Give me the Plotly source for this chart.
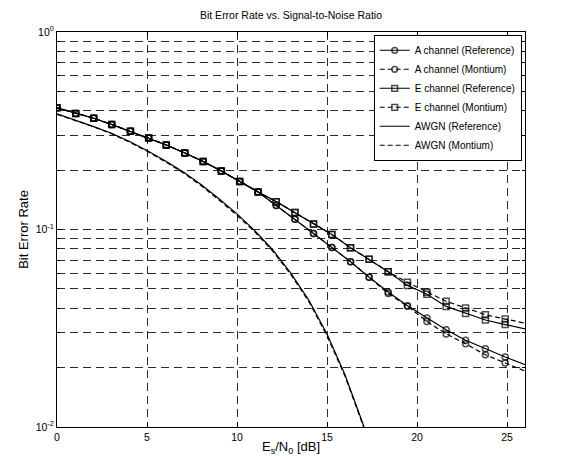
import plotly.graph_objects as go

# ---- data ----
es_n0_db = [0, 1.04, 2.04, 3.04, 4.08, 5.09, 6.07, 7.1, 8.12, 9.13, 10.15, 11.17,
            12.18, 13.22, 14.25, 15.27, 16.31, 17.34, 18.4, 19.47, 20.55, 21.62,
            22.7, 23.8, 24.9, 26.05]
common_low = [0.413, 0.387, 0.366, 0.340, 0.314, 0.291, 0.268, 0.244, 0.221,
              0.198, 0.175, 0.155]
a_ref = common_low + [0.1322, 0.1127, 0.0955, 0.0811, 0.0687, 0.0573, 0.0483,
                      0.0411, 0.0356, 0.0311, 0.0275, 0.0249, 0.0226, 0.0206]
a_mon = common_low + [0.1322, 0.1127, 0.0955, 0.0811, 0.0687, 0.0573, 0.0474,
                      0.0409, 0.0342, 0.0296, 0.0264, 0.0232, 0.0211, 0.0191]
e_ref = common_low + [0.1384, 0.1219, 0.1066, 0.0944, 0.0809, 0.0706, 0.0611,
                      0.0521, 0.0470, 0.0408, 0.0376, 0.0348, 0.0330, 0.0313]
e_mon = common_low + [0.1384, 0.1219, 0.1066, 0.0944, 0.0809, 0.0706, 0.0611,
                      0.0540, 0.0481, 0.0433, 0.0401, 0.0370, 0.0352, 0.0335]

awgn_x = list(range(0, 19))
awgn_ref = [0.385, 0.359, 0.333, 0.308, 0.280, 0.251, 0.223, 0.196, 0.169, 0.143,
            0.120, 0.0984, 0.0785, 0.060, 0.0437, 0.0296, 0.0184, 0.01035, 0.0054]
awgn_mon = [0.383, 0.358, 0.332, 0.306, 0.278, 0.249, 0.221, 0.194, 0.167, 0.141,
            0.118, 0.0970, 0.0775, 0.0590, 0.0430, 0.0290, 0.0181, 0.0102, 0.0053]

x_ticks = [0, 5, 10, 15, 20, 25]
y_tickvals = [0.01, 0.1, 1]
y_ticktext = ["10<sup>-2</sup>", "10<sup>-1</sup>", "10<sup>0</sup>"]

# ---- figure ----
FONT = "Liberation Sans, Arial, sans-serif"
msize = [6] * (len(es_n0_db) - 1) + [0]

fig = go.Figure()

def curve(x, y, name, dash, symbol=None):
    kw = dict(x=x, y=y, name=name, line=dict(color="black", width=1.2, dash=dash))
    if symbol:
        kw["mode"] = "lines+markers"
        kw["marker"] = dict(symbol=symbol, size=msize, color="black",
                            line=dict(color="black", width=1.5))
    else:
        kw["mode"] = "lines"
    fig.add_trace(go.Scatter(**kw))

curve(es_n0_db, a_ref, "A channel (Reference)", "solid", "circle-open")
curve(es_n0_db, a_mon, "A channel (Montium)", "5px,3px", "circle-open")
curve(es_n0_db, e_ref, "E channel (Reference)", "solid", "square-open")
curve(es_n0_db, e_mon, "E channel (Montium)", "5px,3px", "square-open")
curve(awgn_x, awgn_ref, "AWGN (Reference)", "solid")
curve(awgn_x, awgn_mon, "AWGN (Montium)", "5px,3px")

GRID_COLOR = "#2b2b2b"
grid = dict(gridcolor=GRID_COLOR, griddash="8px,5px", gridwidth=1)

fig.update_layout(
    width=562, height=456,
    margin=dict(l=49, r=45, t=24, b=34),
    paper_bgcolor="white", plot_bgcolor="white",
    font=dict(family=FONT, size=10.5, color="black"),
    title=dict(text="Bit Error Rate vs. Signal-to-Noise Ratio", x=0.5,
               xanchor="center", xref="paper", y=1, yref="container",
               yanchor="top", pad=dict(t=4), font=dict(size=10.5)),
    showlegend=True,
    legend=dict(x=0.993, y=0.993, xanchor="right", yanchor="top",
                bgcolor="white", bordercolor="black", borderwidth=1,
                font=dict(size=10), tracegroupgap=0, itemwidth=30),
)
fig.update_xaxes(
    range=[0, 26], tickvals=x_ticks, showgrid=True, **grid,
    showline=True, linecolor="black", linewidth=1, mirror="ticks",
    ticks="inside", ticklen=5, tickcolor="black", zeroline=False,
    title=dict(text="E<sub>s</sub>/N<sub>0</sub> [dB]", standoff=0),
)
fig.update_yaxes(
    type="log", range=[-2, 0], tickvals=y_tickvals, ticktext=y_ticktext,
    showgrid=True, **grid,
    minor=dict(dtick="D1", showgrid=True, gridcolor=GRID_COLOR,
               griddash="8px,5px", gridwidth=1, ticks="inside", ticklen=3,
               tickcolor="black"),
    showline=True, linecolor="black", linewidth=1, mirror="ticks",
    ticks="inside", ticklen=5, tickcolor="black", zeroline=False,
    title=dict(text="Bit Error Rate", standoff=4),
)

fig.write_html("out.html")
